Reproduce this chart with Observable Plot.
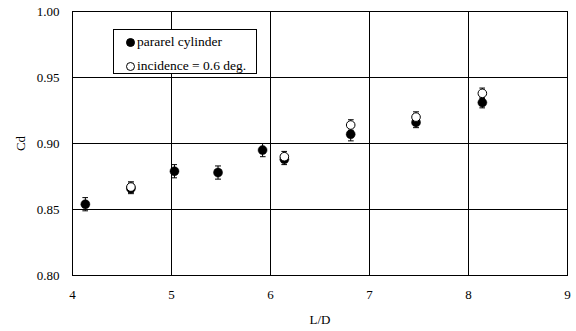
<!DOCTYPE html>
<html>
<head>
<meta charset="utf-8">
<script src="https://cdn.jsdelivr.net/npm/d3@7"></script>
<script src="https://cdn.jsdelivr.net/npm/@observablehq/plot@0.6"></script>
<style>
  html, body { margin: 0; padding: 0; background: #fff; }
  #wrap { position: relative; width: 576px; height: 331px; font-family: "Liberation Serif", "DejaVu Serif", serif; }
  #wrap svg, #wrap svg text { font-family: "Liberation Serif", "DejaVu Serif", serif !important; }
  #legend { position: absolute; left: 113px; top: 29px; width: 144px; height: 45px; border: 1px solid #000; background: #fff; font-size: 13.5px; line-height: 24px; box-sizing: border-box; }
  #legend div { white-space: nowrap; padding-left: 12px; }
  .sym { display: inline-block; width: 9px; height: 9px; border-radius: 50%; border: 1px solid #000; box-sizing: border-box; margin-right: 2px; vertical-align: -0.5px; }
</style>
</head>
<body>
<div id="wrap"></div>
<script>
// Series: parallel cylinder (filled)
const ldFilled = [4.13, 4.59, 5.03, 5.47, 5.92, 6.14, 6.81, 7.47, 8.14];
const cdFilled = [0.854, 0.866, 0.879, 0.878, 0.895, 0.888, 0.907, 0.916, 0.931];
const errFilled = [0.005, 0.004, 0.005, 0.005, 0.005, 0.004, 0.005, 0.004, 0.004];
// Series: incidence = 0.6 deg. (open)
const ldOpen = [4.59, 6.14, 6.81, 7.47, 8.14];
const cdOpen = [0.867, 0.890, 0.914, 0.920, 0.938];
const errOpen = [0.004, 0.004, 0.004, 0.004, 0.004];

const xTicks = [4, 5, 6, 7, 8, 9];
const yTicks = [0.80, 0.85, 0.90, 0.95, 1.00];
const seriesNames = ["pararel cylinder", "incidence = 0.6 deg."];

const filled = ldFilled.map((x, i) => ({x, y: cdFilled[i], e: errFilled[i]}));
const open = ldOpen.map((x, i) => ({x, y: cdOpen[i], e: errOpen[i]}));

const chart = Plot.plot({
  width: 576,
  height: 331,
  marginLeft: 72,
  marginRight: 9,
  marginTop: 11,
  marginBottom: 56,
  style: {fontFamily: "Liberation Serif, DejaVu Serif, serif", fontSize: "13px", color: "#000", background: "#fff"},
  x: {domain: [4, 9], ticks: xTicks, tickFormat: d3.format("d"), tickSize: 0, tickPadding: 14, label: "L/D", labelAnchor: "center", labelOffset: 48, labelArrow: "none"},
  y: {domain: [0.8, 1.0], ticks: yTicks, tickFormat: d3.format(".2f"), tickSize: 0, tickPadding: 13, label: "Cd", labelAnchor: "center", labelOffset: 57, labelArrow: "none"},
  marks: [
    Plot.gridX(xTicks, {stroke: "#000", strokeOpacity: 1, strokeWidth: 1}),
    Plot.gridY(yTicks, {stroke: "#000", strokeOpacity: 1, strokeWidth: 1}),
    Plot.frame({stroke: "#000", strokeWidth: 1}),
    Plot.link(filled, {x1: "x", x2: "x", y1: d => d.y - d.e, y2: d => d.y + d.e, stroke: "#000", strokeWidth: 1, markerStart: "tick", markerEnd: "tick"}),
    Plot.dot(filled, {x: "x", y: "y", r: 4.5, fill: "#000", stroke: "#000", strokeWidth: 0.5}),
    Plot.link(open, {x1: "x", x2: "x", y1: d => d.y - d.e, y2: d => d.y + d.e, stroke: "#000", strokeWidth: 1, markerStart: "tick", markerEnd: "tick"}),
    Plot.dot(open, {x: "x", y: "y", r: 4.3, fill: "#fff", stroke: "#000", strokeWidth: 1})
  ]
});

const wrap = document.getElementById("wrap");
wrap.appendChild(chart);
const legend = document.createElement("div");
legend.id = "legend";
legend.innerHTML = `<div><span class="sym" style="background:#000"></span>${seriesNames[0]}</div><div><span class="sym" style="background:#fff"></span>${seriesNames[1]}</div>`;
wrap.appendChild(legend);
</script>
</body>
</html>
